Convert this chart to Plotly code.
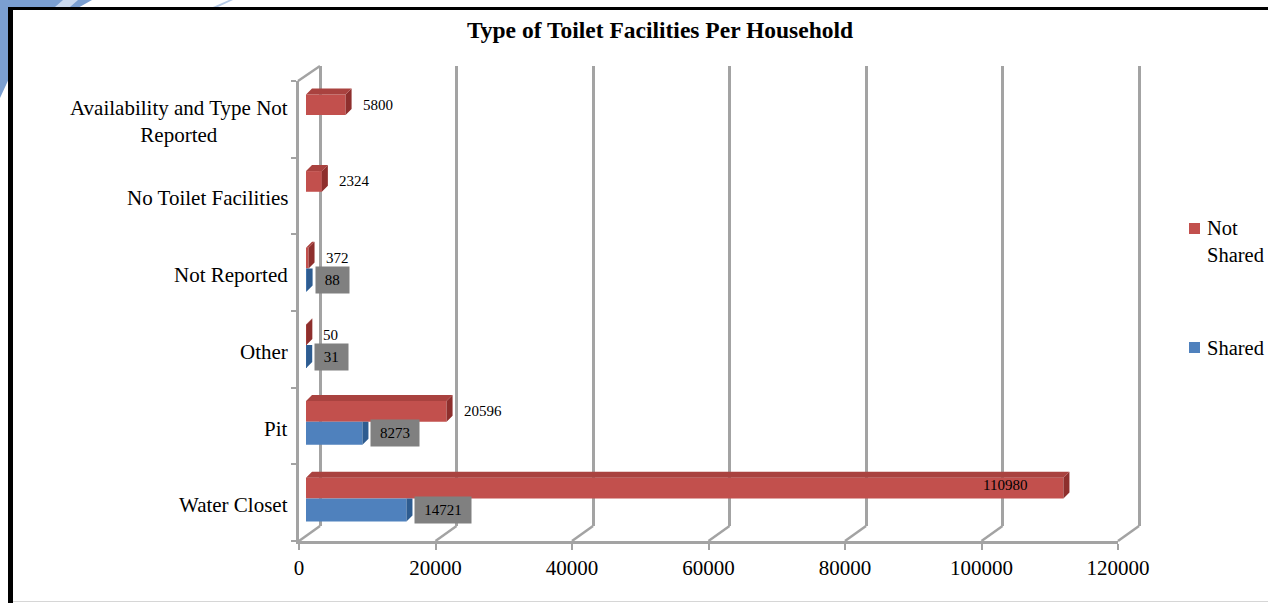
import plotly.graph_objects as go

# ---- data -------------------------------------------------------------
categories = [
    "Water Closet",
    "Pit",
    "Other",
    "Not Reported",
    "No Toilet Facilities",
    "Availability and Type Not Reported",
]
category_text = [
    "Water Closet",
    "Pit",
    "Other",
    "Not Reported",
    "No Toilet Facilities",
    "Availability and Type Not<br>Reported",
]
not_shared = [110980, 20596, 50, 372, 2324, 5800]
shared = [14721, 8273, 31, 88, None, None]
value_ticks = [0, 20000, 40000, 60000, 80000, 100000, 120000]
series_names = ["Not Shared", "Shared"]
chart_title = "Type of Toilet Facilities Per Household"

# ---- styling / geometry (pixels) ---------------------------------------
W, H = 1268, 603
X_MAX = value_ticks[-1]
N = len(categories)
FONT = "Liberation Serif"

RED, RED_TOP, RED_SIDE = "#C2504D", "#A9423F", "#8E2F2D"
BLUE, BLUE_SIDE = "#4F81BD", "#2E5C90"
FRAME = "#A3A3A3"

FX0, FX1 = 299, 1118          # front plane: value 0 .. X_MAX
FY_TOP, FY_BOT = 81, 541      # front plane: category band extent
BACK = (21, -15)              # back wall offset
BARS = (7, -5)                # plane of the bars' front faces
FACE = (6, 6)                 # bar thickness (right, up)
GRID_PAD = 3                  # keeps the outermost wall gridlines inside the axis

RED_OFF, RED_W = -0.01, 0.27
BLUE_OFF, BLUE_W = -0.31, 0.30


def px(x):
    return x / W


def py(y):
    return 1 - y / H


def xdom(dx, pad=0):
    return [px(FX0 + dx - pad), px(FX1 + dx + pad)]


def ydom(dy):
    return [py(FY_BOT + dy), py(FY_TOP + dy)]


units_x = X_MAX / (FX1 - FX0)
units_y = N / (FY_BOT - FY_TOP)
face_dx = FACE[0] * units_x
face_dy = FACE[1] * units_y
positions = list(range(N))

fig = go.Figure()

# empty traces so the back-wall and front-frame subplots are laid out
fig.add_trace(go.Scatter(x=[None], y=[None], xaxis="x", yaxis="y",
                         showlegend=False, hoverinfo="skip"))
fig.add_trace(go.Scatter(x=[None], y=[None], xaxis="x2", yaxis="y2",
                         showlegend=False, hoverinfo="skip"))

# front faces of the bars
fig.add_trace(go.Bar(
    y=positions, x=not_shared, orientation="h", name=series_names[0],
    offset=RED_OFF, width=RED_W, marker=dict(color=RED, line=dict(width=0)),
    hovertext=categories, hoverinfo="text+x",
    xaxis="x3", yaxis="y3", showlegend=False,
))
fig.add_trace(go.Bar(
    y=positions, x=shared, orientation="h", name=series_names[1],
    offset=BLUE_OFF, width=BLUE_W, marker=dict(color=BLUE, line=dict(width=0)),
    hovertext=categories, hoverinfo="text+x",
    xaxis="x3", yaxis="y3", showlegend=False,
))


def face_trace(xs, ys, color):
    return go.Scatter(x=xs, y=ys, mode="lines", fill="toself", fillcolor=color,
                      line=dict(width=0), hoverinfo="skip", showlegend=False,
                      xaxis="x3", yaxis="y3")


# right-hand end faces of the blue bars (the part above them sits behind red)
bx, by = [], []
for p, v in zip(positions, shared):
    if v is None:
        continue
    y0, y1 = p + BLUE_OFF, p + BLUE_OFF + BLUE_W
    bx += [v, v, v + face_dx, v + face_dx, v, None]
    by += [y0, y1, y1, y0 + face_dy, y0, None]
fig.add_trace(face_trace(bx, by, BLUE_SIDE))

# end faces and top faces of the red bars
rx, ry, tx, ty = [], [], [], []
for p, v in zip(positions, not_shared):
    y0, y1 = p + RED_OFF, p + RED_OFF + RED_W
    rx += [v, v, v + face_dx, v + face_dx, v, None]
    ry += [y0, y1, y1 + face_dy, y0 + face_dy, y0, None]
    tx += [0, v, v + face_dx, face_dx, 0, None]
    ty += [y1, y1, y1 + face_dy, y1 + face_dy, y1, None]
fig.add_trace(face_trace(rx, ry, RED_SIDE))
fig.add_trace(face_trace(tx, ty, RED_TOP))

# ---- annotations -------------------------------------------------------
ann = []
lab_font = dict(family=FONT, size=15, color="black")
red_mid = RED_OFF + RED_W / 2
blue_mid = BLUE_OFF + BLUE_W / 2

for p, v in zip(positions, not_shared):
    inside = v > 0.85 * X_MAX
    ann.append(dict(
        x=v, y=p + red_mid, xref="x3", yref="y3", text=str(v), showarrow=False,
        xanchor="right" if inside else "left", xshift=-34 if inside else 15,
        yshift=3 if inside else 0, font=lab_font, borderpad=1,
    ))

for p, v in zip(positions, shared):
    if v is None:
        continue
    txt = str(v)
    ann.append(dict(
        x=v, y=p + blue_mid, xref="x3", yref="y3", text=txt, showarrow=False,
        xanchor="left", xshift=8, font=lab_font, bgcolor="#808080",
        borderpad=0, width=17 + 7.8 * len(txt), height=26, align="center",
    ))

for p, t in zip(positions, category_text):
    ann.append(dict(
        x=px(290), y=p, xref="paper", yref="y2", text=t, showarrow=False,
        xanchor="right", yanchor="middle", align="center", yshift=-2.5,
        font=dict(family=FONT, size=21, color="black"),
    ))

# legend text
legend_font = dict(family=FONT, size=20.5, color="black")
ann.append(dict(x=px(1205), y=py(241), xref="paper", yref="paper",
                text="Not<br>Shared", showarrow=False, xanchor="left",
                yanchor="middle", align="left", font=legend_font))
ann.append(dict(x=px(1205), y=py(348), xref="paper", yref="paper",
                text=series_names[1], showarrow=False, xanchor="left",
                yanchor="middle", align="left", font=legend_font))

# ---- shapes ------------------------------------------------------------
shapes = []


def pline(x0, y0, x1, y1, color, width, layer="below"):
    shapes.append(dict(type="line", xref="paper", yref="paper",
                       x0=px(x0), y0=py(y0), x1=px(x1), y1=py(y1),
                       line=dict(color=color, width=width), layer=layer))


def prect(x0, y0, x1, y1, fill, layer="below"):
    shapes.append(dict(type="rect", xref="paper", yref="paper",
                       x0=px(x0), y0=py(y0), x1=px(x1), y1=py(y1),
                       fillcolor=fill, line=dict(width=0), layer=layer))


def ppath(points, fill):
    d = "M " + " L ".join(f"{px(x)},{py(y)}" for x, y in points) + " Z"
    shapes.append(dict(type="path", xref="paper", yref="paper", path=d,
                       fillcolor=fill, line=dict(width=0), layer="below"))


# page ornament in the corner
ppath([(0, 0), (92, 0), (60, 18), (30, 45), (12, 72), (0, 98)], "#7B9FD1")
ppath([(63, 0), (78, 0), (70, 7), (55, 7)], "#C9D8EE")
ppath([(213, 7), (229, 0), (233, 0), (218, 7)], "#B5CAE7")

# chart panel and its border
prect(10, 8, W, H, "white")
prect(8, 7, 13, H, "black")
prect(8, 7, W, 10, "black")
prect(13, 601, W, 602, "#D6D6D6")

# box edges receding from the front plane
for v in value_ticks:
    fx = FX0 + v / units_x
    pline(fx, FY_BOT, fx + BACK[0], FY_BOT + BACK[1], FRAME, 2.5)
pline(FX0 - 1, FY_TOP, FX0 + BACK[0], FY_TOP + BACK[1], FRAME, 2.5)

# legend swatches
prect(1189, 223, 1200, 234, RED, layer="above")
prect(1189, 342, 1200, 353, BLUE, layer="above")

# ---- layout ------------------------------------------------------------
tick_font = dict(family=FONT, size=21, color="black")
hidden = dict(visible=False, fixedrange=True, automargin=False)
fig.update_layout(
    width=W, height=H, autosize=False,
    margin=dict(l=0, r=0, t=0, b=0, pad=0, autoexpand=False),
    paper_bgcolor="white", plot_bgcolor="rgba(0,0,0,0)",
    barmode="overlay", showlegend=False,
    title=dict(text=chart_title, x=px(660), y=py(30), xref="paper",
               yref="paper", xanchor="center", yanchor="middle",
               automargin=False,
               font=dict(family=FONT, size=23.5, color="black", weight="bold")),
    # back wall with its vertical gridlines
    xaxis=dict(domain=xdom(BACK[0], GRID_PAD),
               range=[-GRID_PAD * units_x, X_MAX + GRID_PAD * units_x],
               anchor="y", tickvals=value_ticks, showgrid=True,
               gridcolor=FRAME, gridwidth=2.5, zeroline=False, showline=False,
               showticklabels=False, ticks="", fixedrange=True,
               automargin=False),
    yaxis=dict(domain=ydom(BACK[1]), range=[-0.5, N - 0.5], anchor="x",
               **hidden),
    # front frame with value axis and category ticks
    xaxis2=dict(domain=xdom(0), range=[0, X_MAX], anchor="y2",
                tickvals=value_ticks, tickformat="d", showgrid=False,
                zeroline=False, showline=True, linecolor=FRAME, linewidth=2.5,
                ticks="outside", ticklen=6, tickwidth=2, tickcolor=FRAME,
                tickfont=tick_font, fixedrange=True, automargin=False),
    yaxis2=dict(domain=ydom(0), range=[-0.5, N - 0.5], anchor="x2",
                tickvals=[i - 0.5 for i in range(N + 1)],
                showticklabels=False, showgrid=False, zeroline=False,
                showline=True, linecolor=FRAME, linewidth=2.5,
                ticks="outside", ticklen=5, tickwidth=2, tickcolor=FRAME,
                fixedrange=True, automargin=False),
    # plane of the bars
    xaxis3=dict(domain=xdom(BARS[0]), range=[0, X_MAX], anchor="y3",
                **hidden),
    yaxis3=dict(domain=ydom(BARS[1]), range=[-0.5, N - 0.5], anchor="x3",
                **hidden),
    annotations=ann,
    shapes=shapes,
)

fig.write_html("out.html")
